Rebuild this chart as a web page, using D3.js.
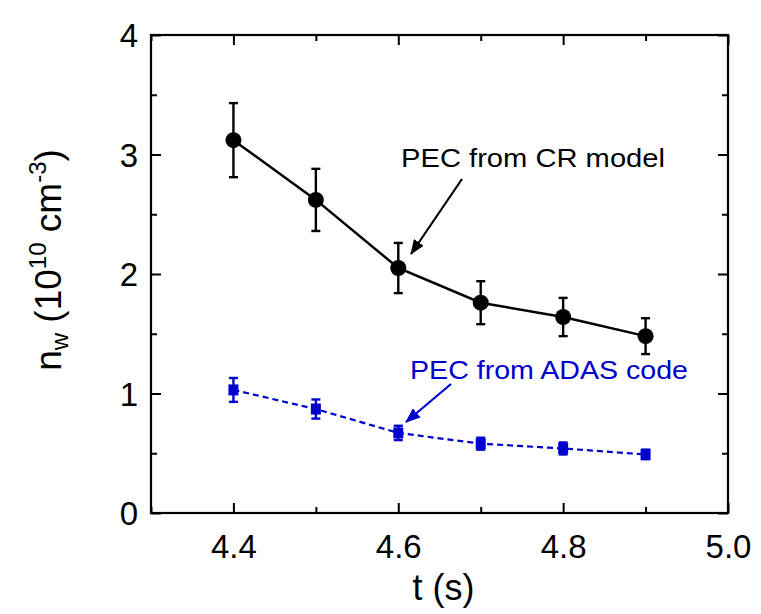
<!DOCTYPE html>
<html>
<head>
<meta charset="utf-8">
<script src="https://cdn.jsdelivr.net/npm/d3@7"></script>
<style>
  html, body { margin: 0; padding: 0; background: #fff; }
  svg { display: block; font-family: "Liberation Sans", Arial, sans-serif; }
</style>
</head>
<body>
<svg id="chart" width="761" height="614"></svg>
<script>
// Time points (s)
const times = [4.4, 4.5, 4.6, 4.7, 4.8, 4.9];
// W density from the collisional-radiative PEC (10^10 cm^-3)
const crValues = [3.12, 2.62, 2.05, 1.76, 1.64, 1.48];
const crErrors = [0.31, 0.26, 0.21, 0.18, 0.16, 0.15];
// W density from the ADAS PEC (10^10 cm^-3)
const adasValues = [1.03, 0.87, 0.67, 0.58, 0.54, 0.49];
const adasErrors = [0.10, 0.08, 0.06, 0.05, 0.05, 0.04];
// Axis ticks
const xMajorTicks = [4.4, 4.6, 4.8, 5.0];
const xMinorTicks = [4.3, 4.5, 4.7, 4.9];
const yMajorTicks = [0, 1, 2, 3, 4];
const yMinorTicks = [0.5, 1.5, 2.5, 3.5];

const W = 761, H = 614;
const margin = { left: 151, top: 35, right: 33, bottom: 101 };
const iw = W - margin.left - margin.right;
const ih = H - margin.top - margin.bottom;

const svg = d3.select("#chart");
const g = svg.append("g").attr("transform", `translate(${margin.left},${margin.top})`);

const x = d3.scaleLinear().domain([4.3, 5.0]).range([0, iw]);
const y = d3.scaleLinear().domain([0, 4]).range([ih, 0]);

const BLUE = "#0000cc";
const tickFont = 33;

// Inward ticks on all four sides
function addTicks(axisGen, transform, len, labels) {
  const a = g.append("g").attr("transform", transform)
    .call(axisGen.tickSize(len).tickSizeOuter(0));
  a.select(".domain").remove();
  a.selectAll(".tick line").attr("stroke", "#000").attr("stroke-width", 2);
  if (!labels) a.selectAll(".tick text").remove();
  return a;
}
// bottom
const xb = addTicks(d3.axisTop(x).tickValues(xMajorTicks).tickFormat(d3.format(".1f")), `translate(0,${ih})`, 10, true);
xb.selectAll(".tick text").attr("y", 0).attr("dy", null)
  .attr("transform", "translate(0,45)")
  .attr("font-size", tickFont).attr("fill", "#000")
  .attr("font-family", "Liberation Sans, Arial, sans-serif");
addTicks(d3.axisTop(x).tickValues(xMinorTicks), `translate(0,${ih})`, 6, false);
// top
addTicks(d3.axisBottom(x).tickValues(xMajorTicks), `translate(0,0)`, 10, false);
addTicks(d3.axisBottom(x).tickValues(xMinorTicks), `translate(0,0)`, 6, false);
// left
const yl = addTicks(d3.axisRight(y).tickValues(yMajorTicks).tickFormat(d3.format("d")), `translate(0,0)`, 10, true);
yl.selectAll(".tick text").attr("x", -13).attr("dy", "0.36em")
  .attr("text-anchor", "end")
  .attr("font-size", tickFont).attr("fill", "#000")
  .attr("font-family", "Liberation Sans, Arial, sans-serif");
addTicks(d3.axisRight(y).tickValues(yMinorTicks), `translate(0,0)`, 6, false);
// right
addTicks(d3.axisLeft(y).tickValues(yMajorTicks), `translate(${iw},0)`, 10, false);
addTicks(d3.axisLeft(y).tickValues(yMinorTicks), `translate(${iw},0)`, 6, false);

// Frame
g.append("rect").attr("x", 0).attr("y", 0).attr("width", iw).attr("height", ih)
  .attr("fill", "none").attr("stroke", "#000").attr("stroke-width", 2.2);

// Series builders
const crData = times.map((t, i) => ({ t, v: crValues[i], e: crErrors[i] }));
const adasData = times.map((t, i) => ({ t, v: adasValues[i], e: adasErrors[i] }));

const line = d3.line().x(d => x(d.t)).y(d => y(d.v));

function errorBars(data, color, cap, width) {
  const eb = g.append("g").attr("stroke", color).attr("stroke-width", width);
  eb.selectAll(".v").data(data).join("line")
    .attr("x1", d => x(d.t)).attr("x2", d => x(d.t))
    .attr("y1", d => y(d.v + d.e)).attr("y2", d => y(d.v - d.e));
  eb.selectAll(".top").data(data).join("line")
    .attr("x1", d => x(d.t) - cap).attr("x2", d => x(d.t) + cap)
    .attr("y1", d => y(d.v + d.e)).attr("y2", d => y(d.v + d.e));
  eb.selectAll(".bot").data(data).join("line")
    .attr("x1", d => x(d.t) - cap).attr("x2", d => x(d.t) + cap)
    .attr("y1", d => y(d.v - d.e)).attr("y2", d => y(d.v - d.e));
}

// ADAS series (blue, dashed, squares)
g.append("path").datum(adasData).attr("d", line)
  .attr("fill", "none").attr("stroke", BLUE).attr("stroke-width", 2.2)
  .attr("stroke-dasharray", "6,4");
errorBars(adasData, BLUE, 4.5, 2.4);
g.append("g").selectAll("rect").data(adasData).join("rect")
  .attr("x", d => x(d.t) - 5).attr("y", d => y(d.v) - 5.5)
  .attr("width", 10).attr("height", 11).attr("fill", BLUE);

// CR series (black, solid, circles)
g.append("path").datum(crData).attr("d", line)
  .attr("fill", "none").attr("stroke", "#000").attr("stroke-width", 2.5);
errorBars(crData, "#000", 4.5, 2.4);
g.append("g").selectAll("circle").data(crData).join("circle")
  .attr("cx", d => x(d.t)).attr("cy", d => y(d.v)).attr("r", 8).attr("fill", "#000");

// Annotations with arrows
const defs = svg.append("defs");
function arrowHead(id, color) {
  defs.append("marker").attr("id", id)
    .attr("viewBox", "0 0 15 12").attr("refX", 14).attr("refY", 6)
    .attr("markerWidth", 15).attr("markerHeight", 12)
    .attr("markerUnits", "userSpaceOnUse").attr("orient", "auto")
    .append("path").attr("d", "M0,0 L15,6 L0,12 Z").attr("fill", color);
}
arrowHead("ahBlack", "#000");
arrowHead("ahBlue", BLUE);

svg.append("line").attr("x1", 462).attr("y1", 179).attr("x2", 411).attr("y2", 254)
  .attr("stroke", "#000").attr("stroke-width", 2.2).attr("marker-end", "url(#ahBlack)");
svg.append("text").attr("x", 401).attr("y", 167).attr("font-size", 26)
  .attr("textLength", 264).attr("lengthAdjust", "spacingAndGlyphs")
  .attr("fill", "#000").text("PEC from CR model");

svg.append("line").attr("x1", 451).attr("y1", 384).attr("x2", 406).attr("y2", 422)
  .attr("stroke", BLUE).attr("stroke-width", 2.2).attr("marker-end", "url(#ahBlue)");
svg.append("text").attr("x", 410).attr("y", 379).attr("font-size", 26)
  .attr("textLength", 278).attr("lengthAdjust", "spacingAndGlyphs")
  .attr("fill", BLUE).text("PEC from ADAS code");

// Axis titles
svg.append("text").attr("x", margin.left + iw / 2 + 4).attr("y", 600)
  .attr("text-anchor", "middle").attr("font-size", 36).attr("fill", "#000").text("t (s)");

const yt = svg.append("text").attr("transform", "translate(61,260) rotate(-90)")
  .attr("text-anchor", "middle").attr("font-size", 37).attr("fill", "#000");
yt.append("tspan").text("n");
yt.append("tspan").attr("font-size", 24).attr("dy", 7).text("w");
yt.append("tspan").attr("dy", -7).text(" (10");
yt.append("tspan").attr("font-size", 24).attr("dy", -15).text("10");
yt.append("tspan").attr("dy", 15).text(" cm");
yt.append("tspan").attr("font-size", 24).attr("dy", -15).text("-3");
yt.append("tspan").attr("dy", 15).text(")");
</script>
</body>
</html>
